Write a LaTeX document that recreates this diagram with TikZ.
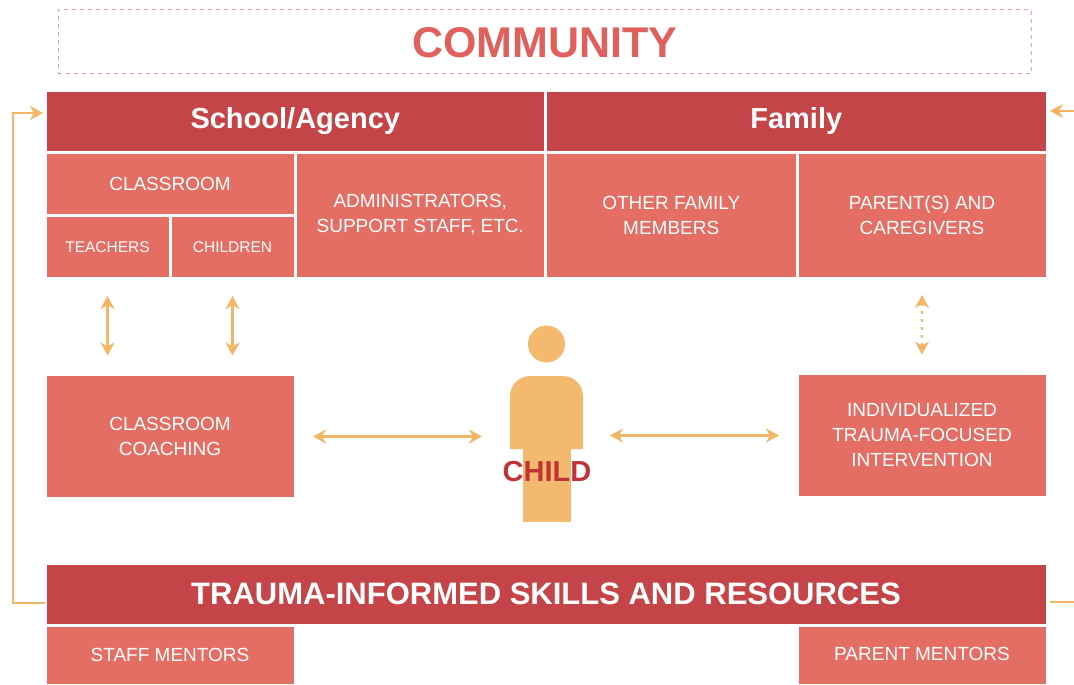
\documentclass[tikz,border=0pt]{standalone}
\usepackage{fontspec}
\setmainfont{Liberation Sans}
\usetikzlibrary{positioning,arrows.meta}
\definecolor{headred}{RGB}{196,68,72}
\definecolor{cellred}{RGB}{229,110,100}
\definecolor{communityred}{RGB}{224,96,92}
\definecolor{communitydash}{RGB}{230,162,176}
\definecolor{linkorange}{RGB}{242,182,100}
\definecolor{childorange}{RGB}{243,185,110}
\definecolor{childred}{RGB}{192,52,56}
\tikzset{
	trauma model/.style={
		x=1pt,y=-1pt,
		node distance=0pt,
		every node/.style={inner sep=0pt,outer sep=0pt}
	},
	cell/.style={
		rectangle,
		fill=cellred,
		draw=white,
		line width=3pt,
		text=white,
		align=center,
		font=\fontsize{19}{25}\selectfont
	},
	small cell/.style={
		cell,
		font=\fontsize{15.5}{18}\selectfont
	},
	header/.style={
		cell,
		fill=headred,
		font=\bfseries\fontsize{29}{32}\selectfont
	},
	link/.style={
		draw=linkorange,
		line width=2.5pt,
		{Stealth[length=13pt,width=14pt,inset=4pt]}-{Stealth[length=13pt,width=14pt,inset=4pt]}
	},
	feedback/.style={
		draw=linkorange,
		line width=2.5pt,
		-{Stealth[length=13pt,width=14pt,inset=4pt]}
	}
}

\begin{document}
\begin{tikzpicture}[
		trauma model,
		community/.style={rectangle,draw=communitydash,dash pattern=on 4pt off 4pt,line width=1pt},
		wide cell/.style={cell,minimum width=250pt}
		]
		\useasboundingbox (0,0) rectangle (1074,685);
		% community frame
		\node[community,minimum width=973pt,minimum height=64pt] (community) at (544.5,42) {};
		\node[text=communityred,font=\bfseries\fontsize{43}{46}\selectfont] (communitylabel) at (545,43) {COMMUNITY};
		% school/agency and family
		\node[header,minimum width=500.5pt,minimum height=61pt,anchor=north west] (school) at (45,91) {School/Agency};
		\node[header,minimum width=501.5pt,minimum height=61pt,right=of school] (family) {Family};
		\node[wide cell,minimum height=63.5pt,anchor=north west] (classroom) at (45,152) {CLASSROOM};
		\node[small cell,minimum width=125pt,minimum height=62.5pt,anchor=north west] (teachers) at (classroom.south west) {TEACHERS};
		\node[small cell,minimum width=125pt,minimum height=62.5pt,right=of teachers] (children) {CHILDREN};
		\node[cell,minimum width=250.5pt,minimum height=126pt,anchor=north west] (admin) at (classroom.north east) {ADMINISTRATORS,\\SUPPORT STAFF, ETC.};
		\node[cell,minimum width=251.5pt,minimum height=126pt,right=of admin] (others) {OTHER FAMILY\\MEMBERS};
		\node[cell,minimum width=250pt,minimum height=126pt,right=of others] (parents) {PARENT(S) AND\\CAREGIVERS};
		% interventions
		\node[wide cell,minimum height=124pt] (coach) at (170,436.5) {CLASSROOM\\COACHING};
		\node[wide cell,minimum height=124pt] (ind) at (922,435.5) {INDIVIDUALIZED\\TRAUMA-FOCUSED\\INTERVENTION};
		% child
		\node[minimum width=73pt,minimum height=146pt] (child) at (546.5,449) {};
		\fill[childorange] (546.5,344) circle[radius=18.5pt];
		\fill[childorange] (510,449) -- (510,396) arc[start angle=180,end angle=90,radius=20pt]
			-- (563,376) arc[start angle=90,end angle=0,radius=20pt] -- (583,449) -- cycle;
		\fill[childorange] (523,445) rectangle (571,522);
		\node[text=childred,font=\bfseries\fontsize{29}{32}\selectfont] (childlabel) at (547,472) {CHILD};
		% skills and resources
		\node[header,minimum width=1002pt,minimum height=62pt,font=\bfseries\fontsize{31}{34}\selectfont] (skills) at (546,594) {TRAUMA-INFORMED SKILLS AND RESOURCES};
		\node[wide cell,minimum height=60pt,anchor=north west] (staff) at (45,625) {\raisebox{1pt}{STAFF MENTORS}};
		\node[wide cell,minimum height=60pt,anchor=north east] (parentmentors) at (1047,625) {\raisebox{2pt}{PARENT MENTORS}};
		% links
		\draw[link,shorten <=18pt,shorten >=19pt] (teachers.south) -- (teachers.south |- coach.north);
		\draw[link,shorten <=18pt,shorten >=19pt] (children.south) -- (children.south |- coach.north);
		\draw[link,dash pattern=on 3pt off 5pt,shorten <=17pt,shorten >=19pt] (parents.south) -- (parents.south |- ind.north);
		\draw[link,shorten <=18pt,shorten >=28pt] (coach.east) -- (coach.east -| child.west);
		\draw[link,shorten <=27pt,shorten >=18pt] (child.east |- ind.west) -- (ind.west);
		% feedback loop
		\coordinate (rimright) at (1076,111);
		\coordinate (rimrightlow) at (1076,602);
		\draw[feedback] ([yshift=-9pt]skills.west) -| (13,113) -- ([xshift=-2pt,yshift=8.5pt]school.west);
		\draw[feedback] (rimright) -- ([xshift=3pt,yshift=10.5pt]family.east);
		\draw[draw=linkorange,line width=2.5pt] ([xshift=3pt,yshift=-8pt]skills.east) -- (rimrightlow);
	\end{tikzpicture}
\end{document}
